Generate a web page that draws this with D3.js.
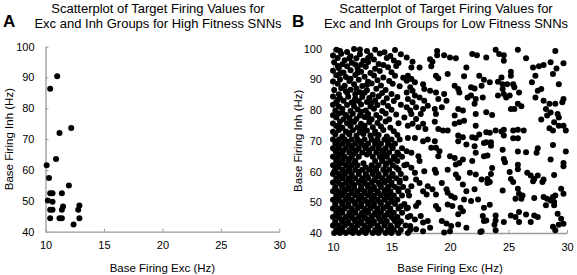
<!DOCTYPE html>
<html>
<head>
<meta charset="utf-8">
<script src="https://cdn.jsdelivr.net/npm/d3@7"></script>
<style>
  body { margin: 0; background: #fff; }
  svg { display: block; font-family: "Liberation Sans", Arial, sans-serif; }
</style>
</head>
<body>
<div id="chart"></div>
<script>
// --- Data ---
const xTicks = [10, 15, 20, 25, 30];
const yTicks = [40, 50, 60, 70, 80, 90, 100];

// Panel A: high fitness SNNs
const highExc = [11.0, 10.4, 11.2, 12.2, 10.9, 10.1, 10.3, 12.0, 10.4, 10.6, 11.4, 10.2,
  10.6, 10.4, 10.6, 11.4, 11.5, 12.9, 12.8, 10.4, 11.2, 11.4, 12.9, 12.4];
const highInh = [90.4, 86.3, 72.0, 73.6, 63.6, 61.5, 57.4, 55.0, 52.5, 52.5, 52.5, 50.1,
  49.7, 47.1, 47.1, 47.1, 48.2, 48.5, 47.1, 44.4, 44.4, 44.4, 44.4, 42.3];

// Panel B: low fitness SNNs, scattered part (exc, inh)
const lowSparse = [
  [23.9,99.6],[24.2,98.2],[24.6,97.8],[25.8,99.6],[29.0,99.2],[23.1,97.1],[24.6,96.0],[26.5,96.8],
  [27.1,93.8],[27.6,94.2],[28.0,94.6],[28.6,95.5],[29.1,93.5],[29.7,95.2],[25.2,92.4],[25.2,91.1],
  [24.4,90.6],[27.3,91.1],[28.8,91.7],[23.4,89.0],[24.1,89.2],[24.5,88.4],[24.9,88.4],[25.4,88.4],
  [25.5,87.4],[27.0,89.0],[27.8,86.8],[27.5,86.3],[29.3,88.4],[24.5,86.8],[24.6,85.2],[25.1,84.7],
  [24.1,84.7],[24.8,84.1],[25.9,85.7],[27.3,84.1],[28.0,83.0],[28.5,82.0],[29.0,82.0],[29.7,83.6],
  [29.6,82.5],[25.8,82.0],[26.1,81.2],[25.5,80.3],[25.2,80.3],[23.6,78.4],[28.2,80.3],[28.6,79.2],
  [28.3,78.2],[29.2,78.7],[29.3,77.6],[27.8,76.9],[28.9,76.0],[29.3,74.9],[29.7,74.9],[29.9,73.3],
  [28.8,73.3],[28.5,74.1],[23.4,72.6],[23.9,73.3],[24.4,73.0],[24.6,73.6],[24.6,71.7],[25.4,73.3],
  [25.8,73.6],[26.3,73.3],[25.4,70.8],[25.8,70.8],[23.1,69.5],[23.5,69.5],[23.5,68.4],[24.5,67.1],
  [25.8,66.5],[26.5,66.3],[27.5,67.6],[27.4,66.1],[28.8,68.6],[29.9,66.5],[23.2,65.2],[24.6,64.1],
  [24.7,63.0],[25.8,62.2],[25.8,60.7],[28.6,63.9],[29.7,62.8],[29.7,61.7],[23.6,61.1],[23.5,59.2],
  [23.2,57.6],[25.1,59.8],[25.2,57.6],[25.4,56.6],[26.6,59.6],[26.9,58.7],[27.2,57.6],[27.5,58.7],
  [27.1,56.8],[28.0,57.4],[27.9,56.6],[28.9,58.9],[23.4,56.6],[24.5,53.8],[25.8,54.4],[25.9,52.8],
  [26.1,51.1],[25.6,51.1],[26.2,52.2],[27.2,51.4],[28.0,51.7],[28.3,51.1],[28.6,50.6],[28.9,50.1],
  [28.8,51.7],[29.0,52.2],[29.5,54.4],[29.7,52.8],[28.2,49.0],[28.9,49.0],[23.4,49.2],[25.2,45.7],
  [25.6,45.2],[25.9,46.8],[26.5,46.0],[27.2,45.7],[27.5,45.2],[26.9,43.6],[29.2,46.3],[29.5,44.6],
  [23.9,45.7],[23.9,44.1],[23.8,42.7],[24.6,43.6],[25.9,43.6],[28.8,42.0],[29.3,42.7],[29.7,43.0],
  [29.0,40.9],[23.9,40.9],[23.1,44.1],
  [18.9,99.2],[18.9,97.8],[19.5,97.8],[20.0,97.1],[20.5,96.8],[21.9,98.2],[22.3,97.8],[16.3,97.1],
  [16.8,95.7],[18.3,96.5],[18.5,95.7],[16.7,93.8],[17.4,93.8],[18.4,94.2],[21.4,93.8],[19.8,91.7],
  [18.8,91.1],[19.0,90.3],[21.2,91.0],[22.5,91.1],[22.9,89.8],[16.4,91.1],[16.7,90.1],[16.3,89.5],
  [17.0,89.0],[16.6,87.4],[16.8,86.3],[17.7,88.4],[20.4,87.9],[20.7,86.8],[20.8,85.7],[21.8,87.4],
  [22.1,87.0],[22.7,87.9],[17.8,86.8],[18.3,86.3],[18.8,85.7],[19.0,83.6],[19.5,85.2],[19.7,83.0],
  [21.5,84.1],[21.8,84.7],[22.2,83.6],[22.8,84.1],[22.1,82.0],[17.4,84.1],[17.8,83.0],[18.1,81.4],
  [17.7,80.3],[18.7,80.3],[19.3,80.9],[20.7,80.3],[21.1,79.8],[20.4,78.2],[18.8,78.7],[18.7,76.2],
  [16.7,78.7],[17.1,77.1],[17.5,78.7],[22.2,78.7],[20.8,76.0],[21.2,76.5],[20.4,75.5],[23.1,79.3],
  [22.2,74.9],[16.4,74.9],[16.8,75.5],[17.3,74.4],[17.7,75.5],[17.9,73.8],[19.0,73.8],[19.4,73.3],
  [19.8,73.3],[20.7,71.7],[21.1,71.1],[21.9,71.1],[22.5,72.0],[23.1,72.8],[16.3,85.7],[16.4,83.6],
  [16.8,82.5],[16.3,80.9],[16.6,79.8],[17.1,80.9],[16.1,77.6],[17.0,84.7],
  [16.4,70.9],[17.0,70.9],[17.7,69.8],[18.1,70.4],[18.7,69.8],[18.4,67.7],[18.8,67.7],[20.7,69.8],
  [21.4,68.8],[22.2,70.9],[22.9,69.3],[16.3,66.6],[16.7,66.1],[17.3,65.0],[17.4,63.4],[19.0,65.0],
  [19.1,66.6],[20.0,65.0],[20.4,64.4],[20.8,62.8],[21.1,63.9],[20.5,62.3],[22.1,68.2],[22.2,66.1],
  [21.9,63.4],[22.9,65.0],[16.3,62.3],[16.7,61.2],[17.0,59.6],[17.8,60.1],[18.7,60.6],[18.8,59.6],
  [19.8,60.6],[20.5,59.0],[20.7,57.9],[21.7,59.6],[22.2,59.0],[22.7,57.4],[23.2,56.3],[17.1,57.4],
  [17.4,56.3],[18.1,55.2],[18.5,54.2],[19.3,56.3],[19.7,54.2],[19.8,53.1],[20.1,52.0],[20.4,51.5],
  [21.1,55.8],[21.4,53.6],[22.1,54.2],[16.7,55.2],[16.4,53.6],[17.7,53.6],[18.0,52.5],[18.8,52.5],
  [21.2,50.9],[21.8,50.4],[22.4,50.9],[17.3,49.8],[17.1,48.8],[18.8,48.8],[19.0,47.7],[19.8,49.3],
  [20.2,48.8],[20.9,48.2],[21.1,47.1],[22.9,48.2],[16.4,48.2],[16.6,45.5],[17.0,44.4],[17.5,45.5],
  [17.7,43.4],[18.1,43.9],[18.3,41.7],[19.3,43.9],[19.7,43.1],[20.1,42.3],[20.0,40.6],[20.7,46.1],
  [20.7,42.8],[22.8,45.5],[22.9,43.9],[22.7,40.6],[16.6,42.3],[17.1,41.2],[17.7,40.6],[21.4,41.7],
  [22.6,40.3],[19.5,40.2]
];

// Panel B: upper part of the dense block near Exc 10-16 (exc, inh)
const lowDenseUpper = [
  [10.3,99.6],[11.2,98.9],[11.8,99.8],[12.9,99.2],[13.6,99.6],[14.4,98.8],[15.3,99.5],
  [10.0,97.7],[10.7,98.3],[11.5,97.5],[12.3,98.1],[13.2,97.7],[14.0,98.4],[14.9,97.6],[15.8,98.1],
  [10.4,96.9],[11.0,96.2],[12.0,96.8],[12.6,96.0],[13.5,96.4],[14.6,96.9],[15.2,96.1],
  [10.1,95.5],[10.8,94.9],[11.6,95.4],[12.4,94.7],[13.0,95.6],[13.9,95.0],[14.3,94.6],[15.6,95.3],
  [10.5,93.6],[11.2,94.2],[12.1,93.5],[12.8,94.1],[13.6,93.4],[14.7,93.9],[15.4,94.3],
  [10.0,92.8],[10.9,92.2],[11.5,92.9],[12.4,92.4],[13.2,92.0],[14.0,92.7],[15.0,92.3],
  [10.3,91.3],[11.1,90.7],[11.9,91.4],[12.7,90.8],[13.5,91.2],[14.3,90.6],[15.3,91.1],[16.0,90.5],
  [10.0,89.3],[10.6,89.9],[11.4,89.4],[12.2,89.8],[13.0,89.2],[13.8,89.7],[14.8,89.4],
  [10.4,88.5],[11.0,87.9],[11.8,88.4],[12.5,87.8],[13.3,88.6],[14.1,88.0],[15.1,88.5],[15.7,87.7],
  [10.1,86.5],[10.7,87.1],[11.5,86.6],[12.0,87.0],[12.9,86.4],[13.7,86.9],[14.5,86.5],
  [10.5,85.1],[11.2,85.7],[11.9,85.2],[12.7,85.6],[13.4,85.0],[14.2,85.5],[15.0,85.2],
  [10.0,84.4],[10.6,83.8],[11.3,84.3],[11.9,83.7],[12.5,84.2],[13.1,83.9],[13.9,84.5],[14.6,83.8],[15.5,84.2],
  [10.3,82.5],[10.9,83.0],[11.6,82.4],[12.2,82.9],[12.9,82.6],[13.6,83.1],[14.3,82.4],[15.2,82.9],
  [10.0,81.7],[10.5,81.1],[11.2,81.6],[11.8,81.2],[12.4,81.8],[13.2,81.1],[13.8,81.6],[14.7,81.3],[15.8,81.7],
  [10.2,79.8],[10.8,80.3],[11.5,79.7],[12.1,80.2],[12.8,79.8],[13.5,80.4],[14.2,79.7],[15.0,80.1],
  [10.0,78.3],[10.5,78.9],[11.1,78.4],[11.7,78.8],[12.3,78.2],[13.0,78.7],[13.7,78.4],[14.5,78.9],[15.4,78.5],
  [10.3,77.6],[10.9,77.0],[11.4,77.5],[12.0,77.1],[12.7,77.7],[13.3,77.0],[14.0,77.4],[14.8,77.0],
  [10.0,75.6],[10.6,76.2],[11.2,75.7],[11.8,76.1],[12.4,75.5],[13.1,76.0],[13.8,75.8],[14.5,76.3],[15.6,75.7],
  [10.3,74.8],[10.8,74.2],[11.5,74.7],[12.1,74.3],[12.7,74.9],[13.4,74.4],[14.1,74.6],[14.9,74.2],
  [10.0,72.9],[10.5,73.5],[11.1,73.0],[11.7,73.4],[12.3,72.8],[12.9,73.3],[13.6,73.0],[14.3,73.5],[15.2,73.1],
  [10.2,72.1],[10.8,71.5],[11.4,72.0],[12.0,71.6],[12.6,72.2],[13.2,71.7],[13.9,71.9],[14.6,71.4],[15.5,71.9],
  [10.6,99.2],[12.3,99.7],[11.4,96.8],[13.0,96.9],[10.4,94.3],[11.9,94.8],[10.6,91.8],[12.1,92.1],
  [11.5,90.2],[12.9,88.2],[11.1,86.1],[12.3,85.8],[10.4,83.3],[11.8,82.8],[13.3,82.3],[10.8,79.2],
  [12.4,79.4],[11.5,76.4],[13.0,77.5],[10.5,75.0],[12.5,73.9],[11.3,72.6],[13.6,72.3]
];

// Panel B: lower, nearly solid part of the dense block, as rows [inh, [exc...]]
const lowDenseLower = [
  [70.4, [10.0, 10.5, 11.0, 11.6, 12.1, 12.7, 13.3, 13.8, 14.4, 15.0, 15.7]],
  [69.7, [10.3, 11.3, 12.4, 13.6, 14.7]],
  [69.0, [10.2, 10.8, 11.3, 11.9, 12.4, 13.0, 13.6, 14.1, 14.7, 15.3]],
  [68.3, [10.5, 11.6, 12.7, 13.9, 15.0]],
  [67.6, [10.0, 10.5, 11.1, 11.6, 12.2, 12.8, 13.4, 13.9, 14.5, 15.1, 15.9]],
  [66.9, [10.2, 10.9, 12.0, 13.1, 14.3]],
  [66.2, [10.3, 10.8, 11.4, 11.9, 12.5, 13.1, 13.7, 14.2, 14.8, 15.5]],
  [65.5, [10.6, 11.7, 12.9, 14.4, 15.6]],
  [64.8, [10.0, 10.5, 11.0, 11.6, 12.2, 13.4, 14.0, 14.6, 15.2, 15.9]],
  [64.1, [10.3, 11.4, 14.2, 15.3]],
  [63.4, [10.3, 10.8, 11.3, 11.9, 13.6, 14.2, 14.9, 15.5]],
  [62.7, [10.7, 11.8, 12.6, 14.6]],
  [62.0, [10.0, 10.5, 11.1, 11.6, 12.1, 13.3, 13.9, 14.5, 15.1, 16.1]],
  [61.3, [10.4, 11.3, 12.8, 13.6, 15.4]],
  [60.6, [10.2, 10.8, 11.4, 11.9, 12.5, 13.1, 13.7, 14.3, 14.8, 15.6]],
  [59.9, [10.1, 11.2, 12.2, 13.4, 14.5]],
  [59.2, [10.0, 10.5, 11.0, 11.6, 12.2, 12.8, 13.4, 13.9, 14.5, 15.1, 15.8]],
  [58.5, [10.6, 11.6, 12.9, 13.9, 15.0]],
  [57.8, [10.3, 10.8, 11.3, 11.9, 12.5, 13.0, 13.6, 14.2, 14.8, 15.4, 16.2]],
  [57.1, [10.3, 11.4, 12.4, 13.5, 14.6, 15.7]],
  [56.4, [10.0, 10.5, 11.1, 11.6, 12.2, 12.7, 13.3, 13.9, 14.4, 15.0, 15.7]],
  [55.7, [10.7, 11.8, 12.9, 14.0, 15.0]],
  [55.0, [10.2, 10.8, 11.3, 11.8, 12.4, 13.0, 13.5, 14.1, 14.7, 15.3, 16.0]],
  [54.3, [10.2, 11.3, 12.4, 13.5, 14.6, 15.6]],
  [53.6, [10.0, 10.5, 11.0, 11.6, 12.1, 12.7, 13.2, 13.8, 14.4, 14.9, 15.6]],
  [52.9, [10.6, 11.6, 12.7, 13.9, 14.9]],
  [52.2, [10.3, 10.8, 11.3, 11.9, 12.4, 13.0, 13.5, 14.1, 14.6, 15.2, 15.9, 16.5]],
  [51.5, [10.3, 11.3, 12.4, 13.5, 14.7]],
  [50.8, [10.0, 10.5, 11.1, 11.6, 12.2, 12.7, 13.3, 13.8, 14.4, 15.0, 15.5]],
  [50.1, [10.7, 11.8, 12.9, 14.0, 15.1]],
  [49.4, [10.2, 10.8, 11.3, 11.9, 12.4, 13.0, 13.5, 14.1, 14.7, 15.3, 16.1]],
  [48.7, [10.2, 11.3, 12.4, 13.5, 14.6, 15.8]],
  [48.0, [10.0, 10.5, 11.0, 11.6, 12.1, 12.7, 13.2, 13.8, 14.3, 14.9, 15.6, 16.3]],
  [47.3, [10.6, 11.6, 12.8, 13.8, 14.9]],
  [46.6, [10.3, 10.8, 11.4, 11.9, 12.5, 13.0, 13.6, 14.1, 14.7, 15.2, 15.9]],
  [45.9, [10.3, 11.4, 12.4, 13.5, 14.6]],
  [45.2, [10.0, 10.5, 11.1, 11.6, 12.2, 12.7, 13.3, 13.9, 14.4, 15.0, 15.5, 16.4]],
  [44.5, [10.7, 11.8, 12.9, 14.0, 15.2]],
  [43.8, [10.2, 10.8, 11.3, 11.9, 12.4, 13.0, 13.5, 14.1, 14.6, 15.3, 15.8]],
  [43.1, [10.2, 11.2, 12.3, 13.4, 14.4, 15.6]],
  [42.4, [10.0, 10.5, 11.0, 11.6, 12.1, 12.7, 13.2, 13.8, 14.4, 14.9, 15.5, 16.2]],
  [41.7, [10.6, 11.7, 12.8, 13.9, 15.0]],
  [41.0, [10.3, 10.8, 11.4, 11.9, 12.5, 13.0, 13.6, 14.1, 14.7, 15.2, 15.8, 16.6]],
  [40.5, [10.4, 11.4, 12.5, 13.7, 14.8]],
  [40.0, [10.1, 10.6, 11.1, 11.7, 12.2, 12.8, 13.4, 13.9, 14.5, 15.0, 15.6, 16.4]]
];

const highPoints = highExc.map((e, i) => [e, highInh[i]]);
const lowPoints = lowSparse
  .concat(lowDenseUpper)
  .concat(lowDenseLower.flatMap(([inh, excs]) => excs.map(e => [e, inh])));

// --- Layout ---
const panels = [
  { letter: "A", letterX: 3, titleX: 158,
    title: ["Scatterplot of Target Firing Values for", "Exc and Inh Groups for High Fitness SNNs"],
    xRange: [45.5, 279.3], yRange: [231.7, 46.6], yLabelX: 13, points: highPoints },
  { letter: "B", letterX: 292, titleX: 446,
    title: ["Scatterplot of Target Firing Values for", "Exc and Inh Groups for Low Fitness SNNs"],
    xRange: [333, 567], yRange: [233, 48.5], yLabelX: 302, points: lowPoints }
];

const svg = d3.select("#chart")
  .append("svg")
  .attr("width", 577)
  .attr("height", 275);

panels.forEach(p => {
  const g = svg.append("g");

  const x = d3.scaleLinear().domain([10, 30]).range(p.xRange);
  const y = d3.scaleLinear().domain([40, 100]).range(p.yRange);

  // axes (ticks point inwards, grey lines)
  const gx = g.append("g")
    .attr("transform", `translate(0,${y(40)})`)
    .call(d3.axisBottom(x).tickValues(xTicks).tickSizeInner(-3).tickSizeOuter(0).tickPadding(10));
  const gy = g.append("g")
    .attr("transform", `translate(${x(10)},0)`)
    .call(d3.axisLeft(y).tickValues(yTicks).tickSizeInner(-3).tickSizeOuter(0).tickPadding(11));

  [gx, gy].forEach(a => {
    a.select(".domain").attr("stroke", "#9a9a9a").attr("stroke-width", 1.3);
    a.selectAll(".tick line").attr("stroke", "#9a9a9a");
    a.selectAll(".tick text").attr("fill", "#000").attr("font-size", "11px")
      .attr("font-family", "Liberation Sans, Arial, sans-serif");
  });

  // dots
  g.append("g")
    .selectAll("circle")
    .data(p.points)
    .enter()
    .append("circle")
    .attr("cx", d => x(d[0]))
    .attr("cy", d => y(d[1]))
    .attr("r", 3)
    .attr("fill", "#000");

  // title + panel letter
  g.append("text")
    .attr("text-anchor", "middle")
    .attr("font-size", "13px")
    .selectAll("tspan")
    .data(p.title)
    .enter()
    .append("tspan")
    .attr("x", p.titleX)
    .attr("y", (d, i) => 13 + i * 15)
    .text(d => d);

  g.append("text")
    .attr("x", p.letterX)
    .attr("y", 27)
    .attr("font-size", "17px")
    .attr("font-weight", "bold")
    .text(p.letter);

  // axis labels
  g.append("text")
    .attr("x", (p.xRange[0] + p.xRange[1]) / 2)
    .attr("y", 272)
    .attr("text-anchor", "middle")
    .attr("font-size", "11.5px")
    .text("Base Firing Exc (Hz)");

  g.append("text")
    .attr("transform", `translate(${p.yLabelX},${(p.yRange[0] + p.yRange[1]) / 2}) rotate(-90)`)
    .attr("text-anchor", "middle")
    .attr("font-size", "11.5px")
    .text("Base Firing Inh (Hz)");
});
</script>
</body>
</html>
